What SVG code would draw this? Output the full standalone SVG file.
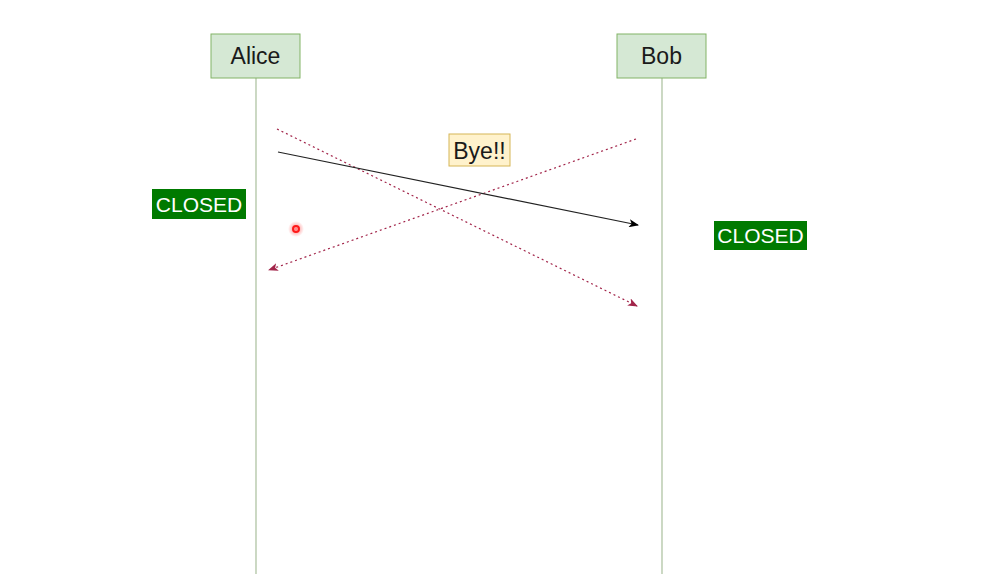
<svg xmlns="http://www.w3.org/2000/svg" width="983" height="574" viewBox="0 0 983 574">
<style>
.actor{fill:#d5e8d4;stroke:#82b366;stroke-width:1}
.life{stroke:#a9bf9c;stroke-width:1.2;fill:none}
.t{font-family:"Liberation Sans",Arial,sans-serif;text-anchor:middle;dominant-baseline:central}
.closed{fill:#007a00}
.dot{stroke:#a2254a;stroke-width:1.2;stroke-dasharray:2 3;fill:none}
</style>
<defs>
<marker id="ab" markerWidth="10" markerHeight="8" refX="9" refY="4" orient="auto" markerUnits="userSpaceOnUse"><path d="M0,0 L10,4 L0,8 L2.5,4 Z" fill="#000"/></marker>
<marker id="ar" markerWidth="10" markerHeight="8" refX="9" refY="4" orient="auto" markerUnits="userSpaceOnUse"><path d="M0,0 L10,4 L0,8 L2.5,4 Z" fill="#a2254a"/></marker>
<radialGradient id="glow"><stop offset="0" stop-color="#ff0000" stop-opacity="0.5"/><stop offset="1" stop-color="#ff0000" stop-opacity="0"/></radialGradient>
</defs>
<rect width="983" height="574" fill="#fff"/>
<g id="alice">
<line class="life" x1="256" y1="78" x2="256" y2="574"/>
<rect class="actor" x="211" y="34" width="89" height="44"/>
<text class="t" x="255.5" y="56" font-size="23" fill="#1a1a1a">Alice</text>
</g>
<g id="bob">
<line class="life" x1="662" y1="78" x2="662" y2="574"/>
<rect class="actor" x="617" y="34" width="89" height="44"/>
<text class="t" x="661.5" y="56" font-size="23" fill="#1a1a1a">Bob</text>
</g>
<g id="connectors">
<line class="dot" x1="277" y1="129" x2="637" y2="306" marker-end="url(#ar)"/>
<line class="dot" x1="636" y1="139" x2="269" y2="270" marker-end="url(#ar)"/>
<line x1="278" y1="152" x2="638" y2="225" stroke="#222" stroke-width="1.2" marker-end="url(#ab)"/>
</g>
<g id="bye">
<rect x="449" y="134" width="61" height="32" fill="#fff2cc" stroke="#d6b656" stroke-width="1"/>
<text class="t" x="479.5" y="150.5" font-size="23" fill="#1a1a1a">Bye!!</text>
</g>
<g id="closed-alice">
<rect class="closed" x="152" y="189" width="94" height="30"/>
<text class="t" x="199" y="204" font-size="21" fill="#fff">CLOSED</text>
</g>
<g id="closed-bob">
<rect class="closed" x="714" y="221" width="93" height="29"/>
<text class="t" x="760.5" y="235.5" font-size="21" fill="#fff">CLOSED</text>
</g>
<g id="cursor">
<circle cx="296" cy="229" r="8" fill="url(#glow)"/>
<circle cx="296" cy="229" r="3" fill="none" stroke="#ff1a1a" stroke-width="2"/>
</g>
</svg>
